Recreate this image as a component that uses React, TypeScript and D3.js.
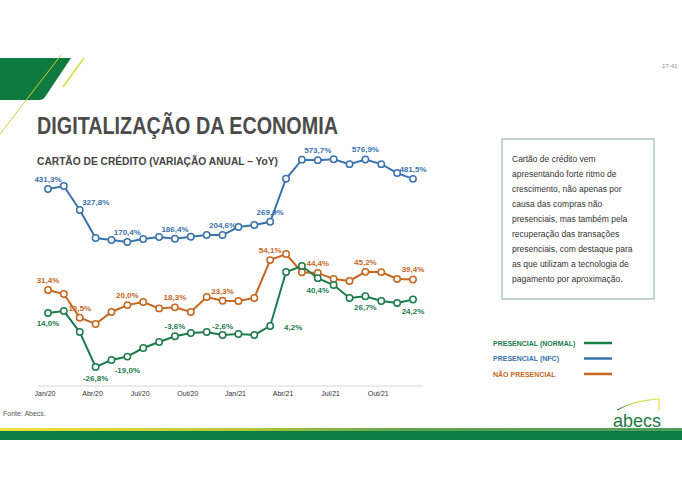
import React from "react";
import * as d3 from "d3";

const months = ["Jan/20","Fev/20","Mar/20","Abr/20","Mai/20","Jun/20","Jul/20","Ago/20","Set/20","Out/20","Nov/20","Dez/20","Jan/21","Fev/21","Mar/21","Abr/21","Mai/21","Jun/21","Jul/21","Ago/21","Set/21","Out/21","Nov/21","Dez/21"];
const tickLabels = ["Jan/20","Abr/20","Jul/20","Out/20","Jan/21","Abr/21","Jul/21","Out/21"];
const presencialNfc = [431.3, 446, 327.8, 190, 180, 170.4, 185, 195, 186.4, 196, 205, 204.6, 244, 254, 269.9, 482, 576, 573.7, 578, 554, 576.9, 554, 510, 481.5];
const presencialNormal = [14.0, 15.5, -0.4, -26.8, -21.6, -19.0, -12.5, -8.0, -3.6, -1.1, -0.4, -2.6, -1.9, -2.7, 4.2, 45.1, 49.6, 40.4, 35.2, 25.4, 26.7, 23.1, 21.6, 24.2];
const naoPresencial = [31.4, 28.4, 10.5, 5.7, 14.8, 20.0, 22.3, 17.5, 18.3, 14.8, 26.1, 23.3, 23.1, 25.4, 54.1, 58.7, 44.9, 44.4, 39.8, 38.3, 45.2, 45.0, 39.8, 39.4];
const nfcLabelIdx = [0, 2, 5, 8, 11, 14, 17, 20, 23];
const normalLabelIdx = [0, 3, 5, 8, 11, 14, 17, 20, 23];
const naoLabelIdx = [0, 2, 5, 8, 11, 14, 17, 20, 23];
const legendItems = ["PRESENCIAL (NORMAL)", "PRESENCIAL (NFC)", "NÃO PRESENCIAL"];
const boxLines = [
  "Cartão de crédito vem",
  "apresentando forte ritmo de",
  "crescimento, não apenas por",
  "causa das compras não",
  "presenciais, mas também pela",
  "recuperação das transações",
  "presenciais, com destaque para",
  "as que utilizam a tecnologia de",
  "pagamento por aproximação.",
];

const GREEN = "#1c7b4b";
const BLUE = "#3a72ad";
const ORANGE = "#c6661e";
const FONT = "'Liberation Sans', Arial, sans-serif";

const locale = d3.formatLocale({ decimal: ",", thousands: ".", grouping: [3], currency: ["R$", ""], minus: "-" });
const fmt = (v: number) => locale.format(".1f")(v) + "%";

// label placements (styling): dx, dy relative to point
const nfcPlace: Record<number, [number, number]> = { 2: [16, -5] };
const normalPlace: Record<number, [number, number]> = { 0: [0, 13], 3: [0, 14], 5: [0, 16], 8: [0, -7], 11: [0, -6], 14: [23, 4], 17: [0, 15], 20: [0, 14], 23: [0, 14] };
const naoPlace: Record<number, [number, number]> = {};

export default function App() {
  const x = d3.scaleLinear().domain([0, months.length - 1]).range([48, 413]);
  const yNfc = d3.scaleLinear().domain([0, 600]).range([276.6, 154.8]);
  const yPct = d3.scaleLinear().domain([-30, 60]).range([371.1, 252.3]);

  const series = [
    { data: presencialNfc, y: yNfc, color: BLUE, labels: nfcLabelIdx, place: nfcPlace },
    { data: naoPresencial, y: yPct, color: ORANGE, labels: naoLabelIdx, place: naoPlace },
    { data: presencialNormal, y: yPct, color: GREEN, labels: normalLabelIdx, place: normalPlace },
  ];

  return (
    <svg width={682} height={500} style={{ position: "absolute", left: 0, top: 0, background: "#fff" }} fontFamily={FONT}>
      <defs>
        <linearGradient id="stripe" x1="0" x2="1" y1="0" y2="0">
          <stop offset="0" stopColor="#f4e23c" />
          <stop offset="0.35" stopColor="#b8c83a" />
          <stop offset="0.6" stopColor="#5fa552" />
          <stop offset="1" stopColor="#4f9e5e" />
        </linearGradient>
        <linearGradient id="arc" x1="0" x2="1" y1="0" y2="0">
          <stop offset="0" stopColor="#2c8a45" />
          <stop offset="0.4" stopColor="#c9d23a" />
          <stop offset="1" stopColor="#ece13a" />
        </linearGradient>
      </defs>
      <rect width={682} height={500} fill="#fff" />
      {/* header shape */}
      <path d="M0,58 L71,58 L45,97 Q43,100 39,100 L0,100 Z" fill="#0e7a3f" />
      <line x1={61} y1={55} x2={0} y2={134} stroke="#c7d23c" strokeWidth={1} />
      <line x1={84} y1={58} x2={63} y2={87} stroke="#d6d83a" strokeWidth={1.3} />
      <text x={662} y={68} fontSize={6} fill="#8a8a8a">17-41</text>

      {/* title */}
      <text x={37} y={134} fontSize={23} fontWeight="bold" fill="#4b4b4b" textLength={301} lengthAdjust="spacingAndGlyphs">DIGITALIZAÇÃO DA ECONOMIA</text>
      <text x={37} y={165} fontSize={10.5} fontWeight="bold" fill="#444" textLength={241} lengthAdjust="spacingAndGlyphs">CARTÃO DE CRÉDITO (VARIAÇÃO ANUAL – YoY)</text>

      {/* axis */}
      <line x1={38} x2={423} y1={386} y2={386} stroke="#d6d6d6" strokeWidth={1} />
      {tickLabels.map((t) => {
        const i = months.indexOf(t);
        return (
          <text key={t} x={x(i) - 3} y={396} fontSize={7} fill="#333" textAnchor="middle">{t}</text>
        );
      })}

      {series.map((s, si) => {
        const line = d3.line<number>().x((_, i) => x(i)).y((v) => s.y(v));
        return (
          <g key={si}>
            <path d={line(s.data) || ""} fill="none" stroke={s.color} strokeWidth={2} />
            {s.data.map((v, i) => (
              <circle key={i} cx={x(i)} cy={s.y(v)} r={3.2} fill="#fff" stroke={s.color} strokeWidth={1.5} />
            ))}
          </g>
        );
      })}
      {series.map((s, si) => (
        <g key={"l" + si}>
          {s.labels.map((i) => {
            const [dx, dy] = s.place[i] || [0, -7];
            return (
              <text key={i} x={x(i) + dx} y={s.y(s.data[i]) + dy} fontSize={8} fontWeight="bold" fill={s.color} textAnchor="middle">
                {fmt(s.data[i])}
              </text>
            );
          })}
        </g>
      ))}

      {/* text box */}
      <rect x={502} y={139} width={152} height={160} fill="#fff" stroke="#a3bfb9" strokeWidth={1.3} />
      {boxLines.map((l, i) => (
        <text key={i} x={512} y={162 + i * 15} fontSize={8.5} fill="#333">{l}</text>
      ))}

      {/* legend */}
      {legendItems.map((l, i) => {
        const c = [GREEN, BLUE, ORANGE][i];
        const yy = 343 + i * 15.5;
        return (
          <g key={l}>
            <text x={493} y={yy + 2.5} fontSize={7} fontWeight="bold" fill={c}>{l}</text>
            <line x1={584} x2={612} y1={yy} y2={yy} stroke={c} strokeWidth={2.5} />
          </g>
        );
      })}

      {/* footer */}
      <text x={3} y={416} fontSize={7} fill="#555">Fonte: Abecs.</text>
      <rect x={0} y={428} width={682} height={3} fill="url(#stripe)" />
      <rect x={0} y={431} width={682} height={9} fill="#0b7c42" />
      <text x={613} y={427} fontSize={19} fill="#1b7a45" textLength={48} lengthAdjust="spacingAndGlyphs">abecs</text>
      <path d="M617,410 Q632,401 657,399 L659,399 L659,411" fill="none" stroke="url(#arc)" strokeWidth={1.2} />
    </svg>
  );
}
